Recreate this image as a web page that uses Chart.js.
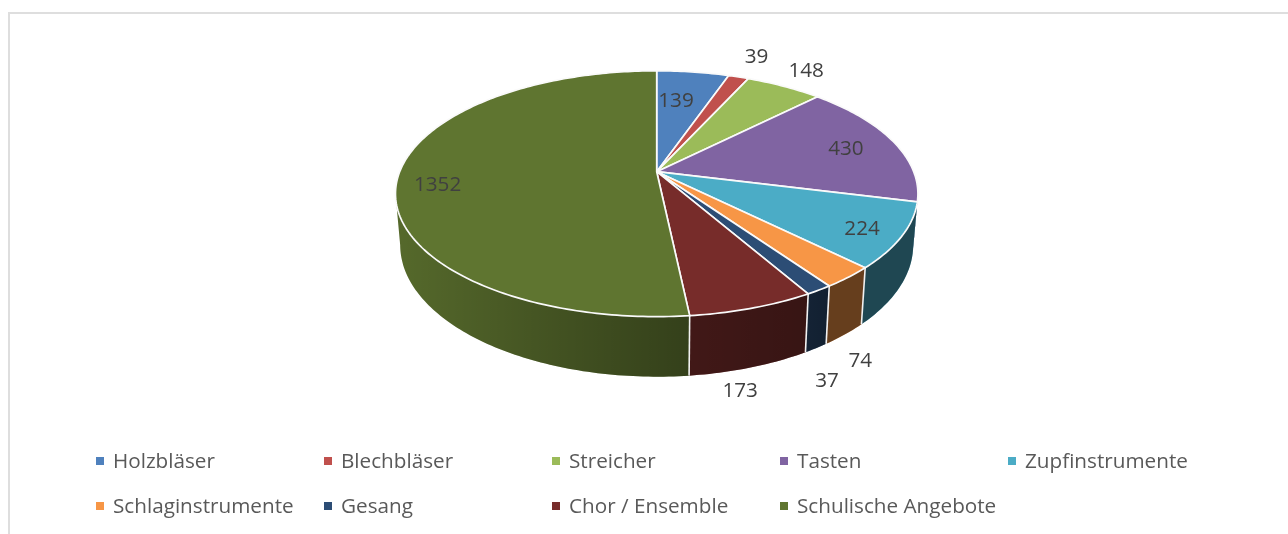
<!DOCTYPE html>
<html lang="de">
<head>
<meta charset="utf-8">
<title>Instrumentalfächer</title>
<script src="https://cdn.jsdelivr.net/npm/chart.js@4"></script>
<style>
    html, body { margin: 0; background: #fff; overflow: hidden; }
    #wrap { position: relative; width: 1288px; height: 534px; }
    #frame { position: absolute; left: 8px; top: 12px; right: 0; bottom: 0; border-left: 2px solid #dedede; border-top: 2px solid #dedede; }
    canvas { position: absolute; left: 0; top: 0; }
</style>
</head>
<body>
<div id="wrap">
    <div id="frame"></div>
    <canvas id="pie3d" width="1288" height="534"></canvas>
</div>
<script>
const categories = ['Holzbläser', 'Blechbläser', 'Streicher', 'Tasten', 'Zupfinstrumente',
    'Schlaginstrumente', 'Gesang', 'Chor / Ensemble', 'Schulische Angebote'];
const values = [139, 39, 148, 430, 224, 74, 37, 173, 1352];
const colors = ['#4F81BD', '#C0504D', '#9BBB59', '#8064A2', '#4BACC6', '#F79646', '#2C4D75', '#772C2A', '#5F7530'];

// where each value label sits relative to the rim point of its slice
const labelOffsets = [[-17, 28], [18, -21], [22, -16], [-47, 7], [-40, -8], [12, 83], [8, 90], [-12, 82], [40, 6]];

const font = '"Open Sans", sans-serif';

// tilted pie: apex, radii and perspective, measured on the reference
const tilt = { cx: 656.7, cy: 171.7, a: 257, b: 119, q: 0.179 };

function project(angle) {
    const u = Math.cos(angle), v = Math.sin(angle);
    const w = 1 - tilt.q * v;
    return { x: tilt.cx + tilt.a * u / w, y: tilt.cy + tilt.b * v / w };
}

// lower edge of the wall, a bit narrower and further away at the back
function lower(p) {
    return {
        x: tilt.cx + (p.x - tilt.cx) * 0.982,
        y: p.y + 49.6 + 0.072 * (p.y - tilt.cy)
    };
}

function rimPoints(start, end) {
    const steps = Math.max(4, Math.ceil((end - start) * 60));
    const pts = [];
    for (let i = 0; i <= steps; i++) {
        pts.push(project(start + (end - start) * i / steps));
    }
    return pts;
}

function wallShade(ctx) {
    const g = ctx.createLinearGradient(396, 0, 918, 0);
    g.addColorStop(0, 'rgba(0,0,0,0.10)');
    g.addColorStop(0.31, 'rgba(0,0,0,0.30)');
    g.addColorStop(0.56, 'rgba(0,0,0,0.45)');
    g.addColorStop(0.77, 'rgba(0,0,0,0.53)');
    g.addColorStop(0.83, 'rgba(0,0,0,0.59)');
    g.addColorStop(1, 'rgba(0,0,0,0.59)');
    return g;
}

const pie3dPlugin = {
    id: 'pie3d',
    beforeDatasetsDraw(chart) {
        const ctx = chart.ctx;
        const arcs = chart.getDatasetMeta(0).data;
        const shade = wallShade(ctx);
        // only the front part of the rim has a visible wall
        const frontFrom = Math.asin(tilt.q), frontTo = Math.PI - frontFrom;
        ctx.save();
        ctx.lineJoin = 'round';

        arcs.forEach(arc => {
            const start = Math.max(arc.startAngle, frontFrom);
            const end = Math.min(arc.endAngle, frontTo);
            if (end <= start) return;
            const top = rimPoints(start, end);
            const bottom = top.map(lower).reverse();
            ctx.beginPath();
            top.concat(bottom).forEach((p, i) => i ? ctx.lineTo(p.x, p.y) : ctx.moveTo(p.x, p.y));
            ctx.closePath();
            ctx.fillStyle = arc.options.backgroundColor;
            ctx.fill();
            ctx.fillStyle = shade;
            ctx.fill();
        });

        // white seams between the walls, front side only
        arcs.forEach(arc => {
            if (Math.sin(arc.startAngle) < 0.3) return;
            const p = project(arc.startAngle), q = lower(p);
            ctx.beginPath();
            ctx.moveTo(p.x, p.y);
            ctx.lineTo(q.x, q.y);
            ctx.strokeStyle = '#f2f2f2';
            ctx.lineWidth = 1.6;
            ctx.stroke();
        });

        arcs.forEach(arc => {
            ctx.beginPath();
            ctx.moveTo(tilt.cx, tilt.cy);
            rimPoints(arc.startAngle, arc.endAngle).forEach(p => ctx.lineTo(p.x, p.y));
            ctx.closePath();
            ctx.fillStyle = arc.options.backgroundColor;
            ctx.fill();
            ctx.strokeStyle = arc.options.borderColor;
            ctx.lineWidth = arc.options.borderWidth;
            ctx.stroke();
        });
        ctx.restore();
        return false; // the flat arcs are not wanted
    },
    afterDraw(chart) {
        const ctx = chart.ctx;
        const arcs = chart.getDatasetMeta(0).data;
        ctx.save();
        ctx.textBaseline = 'middle';

        ctx.font = '20.7px ' + font;
        ctx.textAlign = 'center';
        ctx.fillStyle = '#404040';
        arcs.forEach((arc, i) => {
            const p = project((arc.startAngle + arc.endAngle) / 2);
            ctx.fillText(String(values[i]), p.x + labelOffsets[i][0], p.y + labelOffsets[i][1] + 1);
        });

        // legend: five equal columns, two rows
        ctx.textAlign = 'left';
        categories.forEach((name, i) => {
            const x = 96 + 228 * (i % 5);
            const y = 461 + 45 * Math.floor(i / 5);
            ctx.fillStyle = colors[i];
            ctx.fillRect(x, y - 4, 8, 8);
            ctx.fillStyle = '#595959';
            ctx.fillText(name, x + 17, y + 1);
        });
        ctx.restore();
    }
};

new Chart(document.getElementById('pie3d').getContext('2d'), {
    type: 'pie',
    data: {
        labels: categories,
        datasets: [{
            data: values,
            backgroundColor: colors,
            borderColor: '#fafafa',
            borderWidth: 1.7
        }]
    },
    options: {
        responsive: false,
        animation: false,
        plugins: {
            legend: { display: false },
            tooltip: { enabled: false }
        }
    },
    plugins: [pie3dPlugin]
});
</script>
</body>
</html>
